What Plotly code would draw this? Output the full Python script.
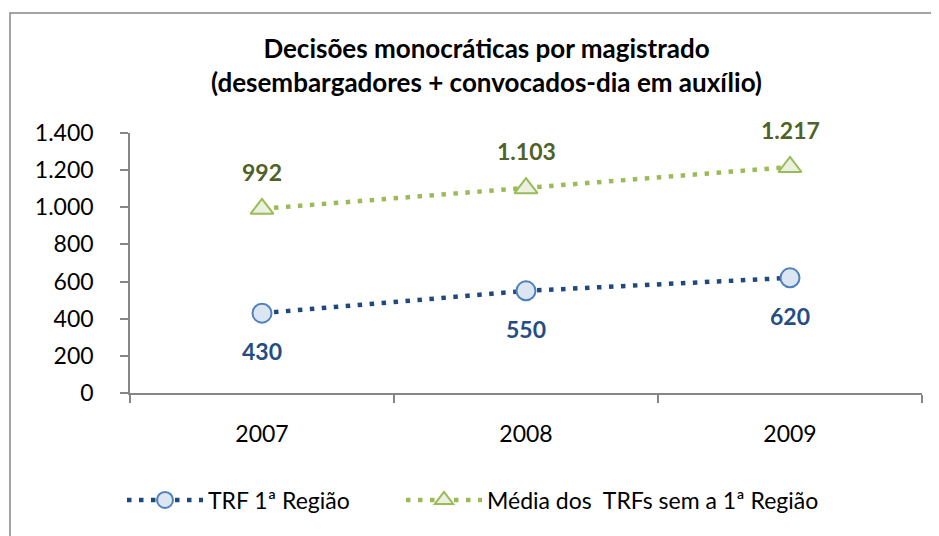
import plotly.graph_objects as go

years = ["2007", "2008", "2009"]
trf1 = [430, 550, 620]
media = [992, 1103, 1217]
name_trf1 = "TRF 1ª Região"
name_media = "Média dos  TRFs sem a 1ª Região"
title_lines = ["Decisões monocráticas por magistrado",
               "(desembargadores + convocados-dia em auxílio)"]
y_ticks = [0, 200, 400, 600, 800, 1000, 1200, 1400]

FONT = "Lato"
BLUE_LINE = "#1F497D"
BLUE_LABEL = "#254D84"
GREEN_LINE = "#9BBB59"
GREEN_LABEL = "#4F6228"

# page body has an 8px margin: figure is drawn from (8, 8)
OFF = 8
W, H = 939 - OFF, 536 - OFF
PL, PR, PT, PB = 130, 922, 133, 393  # plot area in window pixels
PW, PH = PR - PL, PB - PT


def px_x(x):
    return (x - PL) / PW


def px_y(y):
    return (PB - y) / PH


fig = go.Figure()
fig.add_trace(go.Scatter(
    x=years, y=trf1, name=name_trf1, mode="lines+markers", legend="legend",
    line=dict(color=BLUE_LINE, width=4.5, dash="4.5px,7.5px"),
    marker=dict(symbol="circle", size=19, color="#DCE6F2",
                line=dict(color="#4F81BD", width=2)),
))
fig.add_trace(go.Scatter(
    x=years, y=media, name=name_media, mode="lines+markers", legend="legend2",
    line=dict(color=GREEN_LINE, width=4.5, dash="4.5px,7.5px"),
    marker=dict(symbol="triangle-up", size=20, color="#EBF1DE",
                line=dict(color=GREEN_LINE, width=2)),
))


def fmt(v):
    return f"{v:,}".replace(",", ".")


for i, v in enumerate(trf1):
    fig.add_annotation(x=i, y=v, text=f"<b>{fmt(v)}</b>", showarrow=False,
                       yshift=-38, font=dict(family=FONT, size=23, color=BLUE_LABEL))
for i, v in enumerate(media):
    fig.add_annotation(x=i, y=v, text=f"<b>{fmt(v)}</b>", showarrow=False,
                       yshift=37, font=dict(family=FONT, size=23, color=GREEN_LABEL))

fig.add_annotation(xref="paper", yref="paper", x=px_x(486), y=px_y(65),
                   text="<b>" + "<br>".join(title_lines) + "</b>", showarrow=False,
                   font=dict(family=FONT, size=26, color="black"), align="center",
                   yanchor="middle", xanchor="center")

# outer frame
fig.add_shape(type="rect", xref="paper", yref="paper",
              x0=px_x(10), x1=1.2, y0=-1.0, y1=px_y(13),
              line=dict(color="#868686", width=1.5), fillcolor="rgba(0,0,0,0)", layer="below")

legend_common = dict(orientation="h", xanchor="left", y=px_y(500), yanchor="middle",
                     font=dict(family=FONT, size=23, color="black"),
                     itemwidth=76, bgcolor="rgba(0,0,0,0)")

fig.update_layout(
    width=W, height=H,
    margin=dict(l=PL - OFF, r=W - (PR - OFF), t=PT - OFF, b=H - (PB - OFF), autoexpand=False),
    paper_bgcolor="white", plot_bgcolor="white",
    font=dict(family=FONT, size=23, color="black"),
    separators=",.",
    showlegend=True,
    legend=dict(x=px_x(122), **legend_common),
    legend2=dict(x=px_x(401), **legend_common),
)
fig.update_xaxes(
    type="category", range=[-0.5, 2.5], showline=True, linecolor="#868686", linewidth=1.5,
    ticks="outside", tickson="boundaries", ticklen=8, tickcolor="#868686", tickwidth=1.5,
    showgrid=False, ticklabelstandoff=20, tickfont=dict(family=FONT, size=23),
)
fig.update_yaxes(
    range=[0, 1400], tickvals=y_ticks, tickformat=",d", showline=True,
    linecolor="#868686", linewidth=1.5, ticks="outside", ticklen=8, tickcolor="#868686",
    tickwidth=1.5, showgrid=False, zeroline=False, ticklabelstandoff=22,
    tickfont=dict(family=FONT, size=23),
)

fig.write_html("out.html")
